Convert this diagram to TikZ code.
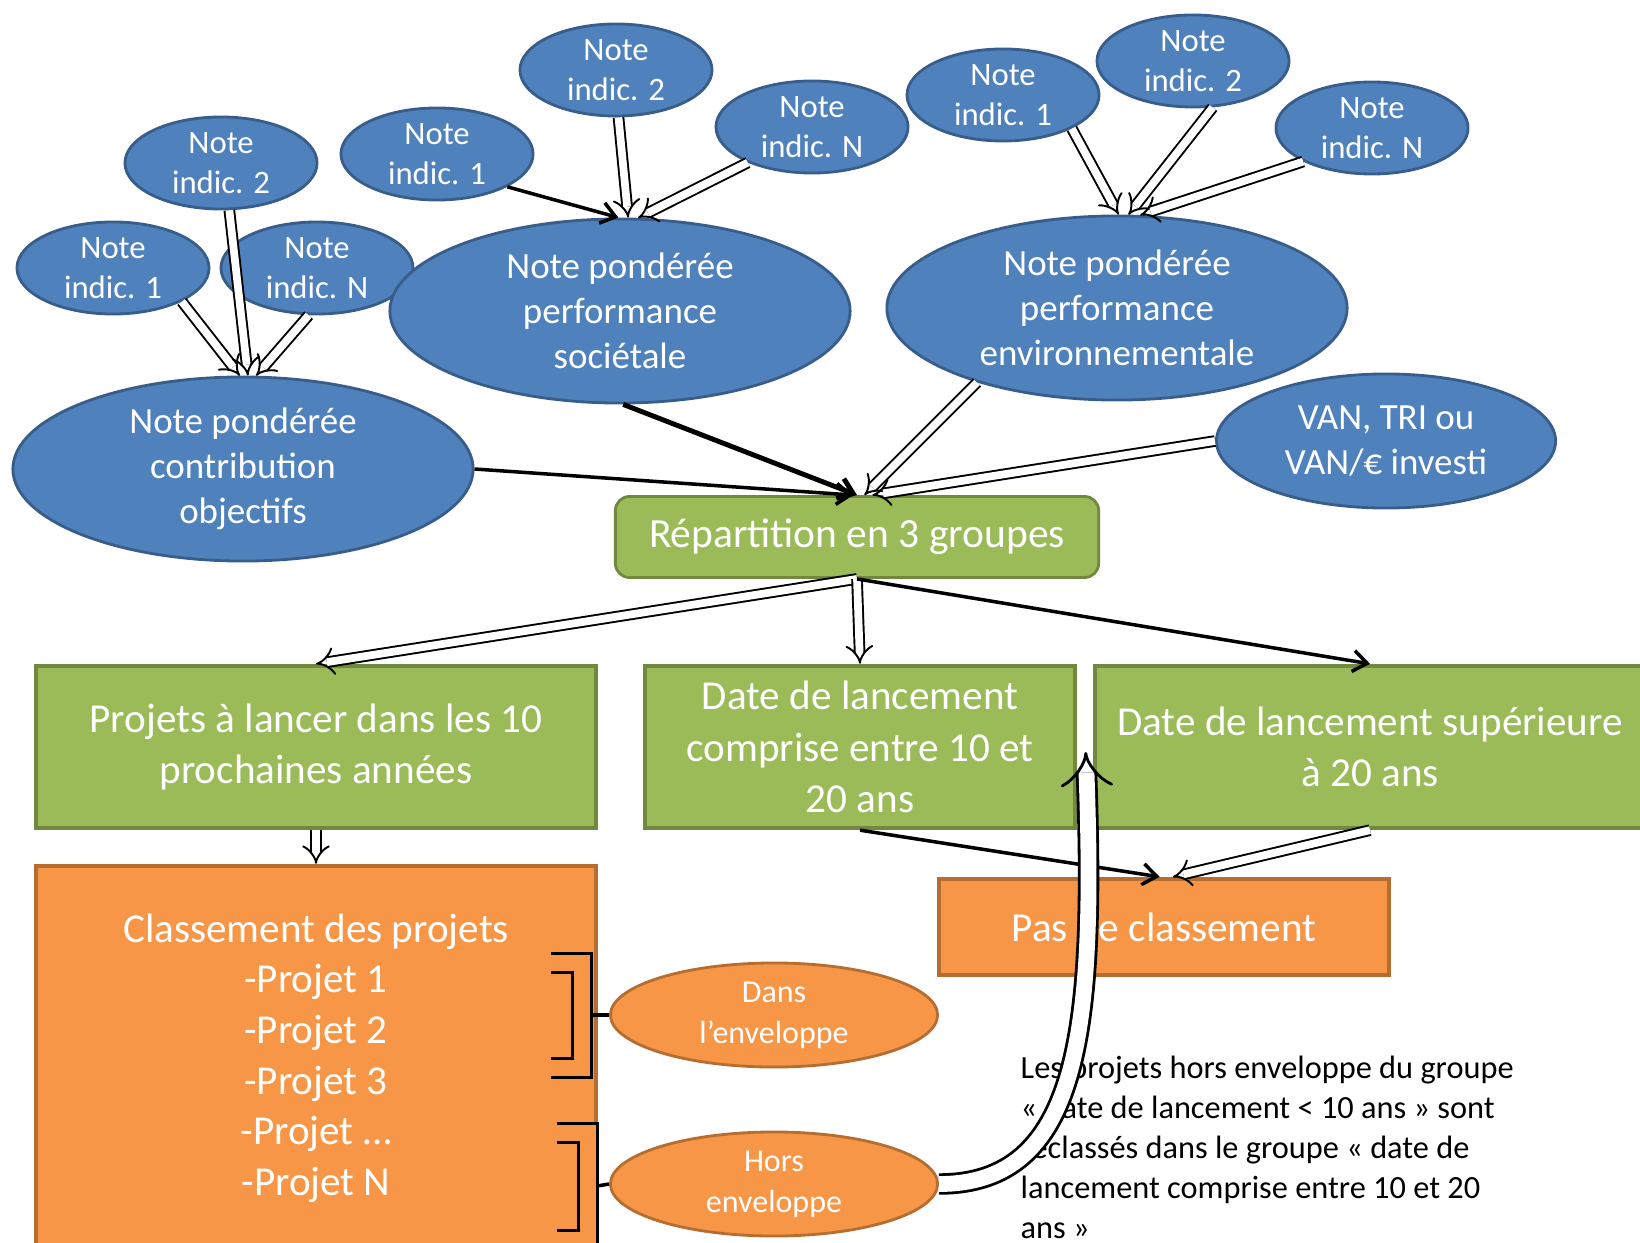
\documentclass[tikz,border=0pt]{standalone}
\usepackage{fontspec}
\setmainfont{Carlito}
\usetikzlibrary{shapes.geometric,arrows.meta}
\definecolor{bleu}{HTML}{4F81BD}
\definecolor{bleufonce}{HTML}{385D8A}
\definecolor{vert}{HTML}{9BBB59}
\definecolor{vertfonce}{HTML}{71893F}
\definecolor{orange}{HTML}{F79646}
\definecolor{orangefonce}{HTML}{B66D31}
\begin{document}
\begin{tikzpicture}[x=0.01cm, y=-0.01cm,
        indic/.style={ellipse, draw=bleufonce, fill=bleu, line width=0.8pt, text=white, align=center, inner sep=-2pt,
            minimum width=1.92cm, minimum height=0.92cm, font=\fontsize{9.3}{11.4}\selectfont},
        note/.style={indic, minimum width=4.6cm, minimum height=1.84cm, font=\fontsize{10.5}{12.8}\selectfont},
        groupe/.style={rectangle, draw=vertfonce, fill=vert, line width=1.2pt, text=white, align=center, inner sep=0pt,
            font=\fontsize{11.7}{14.7}\selectfont},
        rang/.style={groupe, draw=orangefonce, fill=orange},
        enveloppe/.style={indic, draw=orangefonce, fill=orange, minimum width=3.27cm, minimum height=1.04cm,
            font=\fontsize{9.1}{11.6}\selectfont},
        fleche/.style={line width=1pt, -{Straight Barb[length=4pt, width=6pt]}},
        fleche double/.style={double, double distance=2.2pt, line width=0.55pt, -{Implies}},
        crochet/.style={line width=0.9pt, double=orange, double distance=4.3pt}]
        \useasboundingbox (0,0) rectangle (1640,1243);
        \node [indic] (ia1) at (113,268) {Note\\indic. 1};
        \node [indic] (ia2) at (221,163) {Note\\indic. 2};
        \node [indic] (iaN) at (317,268) {Note\\indic. N};
        \node [note] (contrib) at (243,469) {Note pondérée\\contribution\\objectifs};
        \node [indic] (ib1) at (437,154) {Note\\indic. 1};
        \node [indic] (ib2) at (616,70) {Note\\indic. 2};
        \node [indic] (ibN) at (812,127) {Note\\indic. N};
        \node [note] (soc) at (620,311) {Note pondérée\\performance\\sociétale};
        \node [indic] (ic1) at (1003,95) {Note\\indic. 1};
        \node [indic] (ic2) at (1193,61) {Note\\indic. 2};
        \node [indic] (icN) at (1372,128) {Note\\indic. N};
        \node [note] (env) at (1117,308) {Note pondérée\\performance\\environnementale};
        \node [note, minimum width=3.39cm, minimum height=1.34cm] (van) at (1386,441) {VAN, TRI ou\\VAN/€ investi};
        \node [groupe, line width=0.8pt, rounded corners=4pt, minimum width=4.83cm, minimum height=0.81cm, font=\fontsize{11.8}{14}\selectfont] (rep) at (857,537) {Répartition en 3 groupes};
        \node [groupe, minimum width=5.6cm, minimum height=1.62cm] (projA) at (316,747) {Projets à lancer dans les 10\\prochaines années};
        \node [groupe, minimum width=4.29cm, minimum height=1.62cm, font=\fontsize{11.7}{14.6}\selectfont] (projB) at (860,747) {Date de lancement\\comprise entre 10 et\\20 ans};
        \node [groupe, minimum width=5.5cm, minimum height=1.62cm] (projC) at (1370,747) {Date de lancement supérieure\\à 20 ans};
        \node [rang, minimum width=5.6cm, minimum height=3.84cm, font=\fontsize{11.7}{14.4}\selectfont] (classement) at (316,1058) {Classement des projets\\-Projet 1\\-Projet 2\\-Projet 3\\-Projet …\\-Projet N};
        \node [rang, minimum width=4.49cm, minimum height=0.96cm] (pas) at (1164,927) {Pas de classement};
        \node [enveloppe] (dans) at (774,1015) {Dans\\l’enveloppe};
        \node [enveloppe] (hors) at (774,1184) {Hors\\enveloppe};
        \node [anchor=north west, align=left, inner sep=0pt, font=\fontsize{9.2}{11.4}\selectfont] (texte) at (1020,1055)
            {Les projets hors enveloppe du groupe\\« date de lancement < 10 ans » sont\\reclassés dans le groupe « date de\\lancement comprise entre 10 et 20\\ans »};
        \draw [fleche double] (ia1.-26) -- (contrib.92);
        \draw [fleche double] (ia2.-80) -- (contrib.87);
        \draw [fleche double] (iaN.-100) -- (contrib.82);
        \draw [fleche] (ib1.-25) -- (soc.91);
        \draw [fleche double] (ib2.-87) -- (soc.85);
        \draw [fleche double] (ibN.-151) -- (soc.79);
        \draw [fleche double] (ic1.-26) -- (env.89);
        \draw [fleche double] (ic2.-67) -- (env.83);
        \draw [fleche double] (icN.-154) -- (env.76);
        \draw [fleche] (contrib.east) -- (rep.95);
        \draw [fleche, line width=1.4pt] (soc.-88) -- (rep.north);
        \draw [fleche double] (env.208) -- (rep.80);
        \draw [fleche double] (van.west) -- (rep.70);
        \draw [fleche double] (rep.south) -- (projA.north);
        \draw [fleche double] (rep.south) -- (projB.north);
        \draw [fleche] (rep.south) -- (projC.north);
        \draw [fleche double] (projA.south) -- (classement.north);
        \draw [fleche] (projB.south) -- (pas.95);
        \draw [fleche double] (projC.south) -- (pas.80);
        \draw [crochet] (551,963) -- (582,963) -- (582,1068) -- (551,1068);
        \draw [line width=1pt] (591,1015) -- (dans.west);
        \draw [crochet] (557,1133) -- (588,1133) -- (588,1240) -- (557,1240);
        \draw [line width=1pt] (597,1186) -- (hors.west);
        \draw [double, double distance=4.5pt, line width=0.8pt, -{Implies}] (hors.east) .. controls +(140,0) and +(10,280) .. ([shift={(9,5)}]projB.east);
\end{tikzpicture}
\end{document}
